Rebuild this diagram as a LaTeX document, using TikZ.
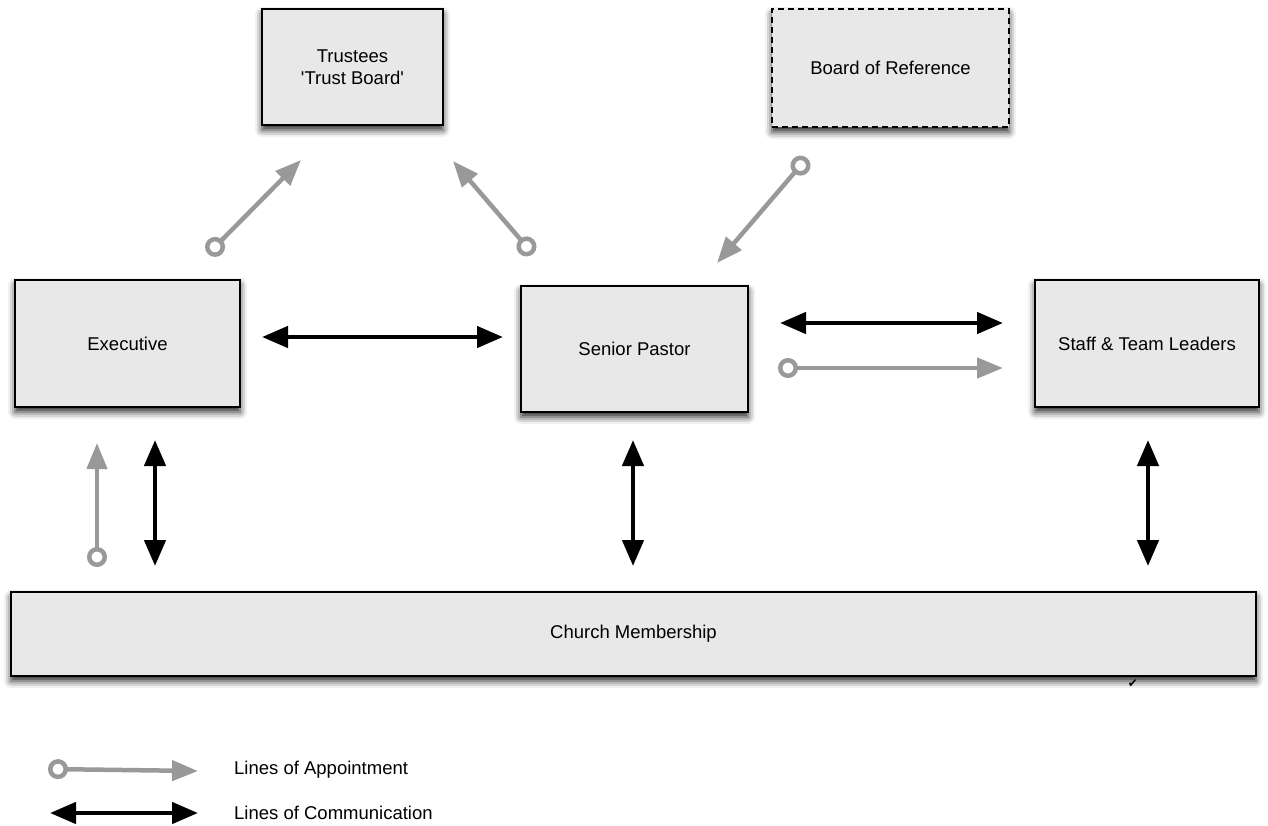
\documentclass[tikz,border=0pt]{standalone}
\usepackage{fontspec}
\setmainfont{Liberation Sans}
\newfontfamily\symfont{DejaVu Sans}
\usetikzlibrary{arrows.meta,shadows.blur}
\definecolor{boxgray}{HTML}{E8E8E8}
\definecolor{arrowgray}{HTML}{999999}
\begin{document}
\begin{tikzpicture}[x=1pt,y=-1pt,
  box/.style={draw=black,line width=1.8pt,fill=boxgray,align=center,inner sep=0pt,
    font=\fontsize{18.5}{22}\selectfont,
    blur shadow={shadow xshift=0pt,shadow yshift=-5pt,shadow blur radius=7pt,shadow opacity=85}},
  comm/.style={draw=black,line width=4.5pt,{Triangle[length=26pt,width=21pt]}-{Triangle[length=26pt,width=21pt]}},
  appt/.style={draw=arrowgray,line width=4.5pt,{Circle[open,length=20pt,width=20pt,line width=4.5pt]}-{Triangle[length=26pt,width=20pt]}},
  legtext/.style={anchor=west,inner sep=0pt,font=\fontsize{18.5}{22}\selectfont}]
\useasboundingbox (0,0) rectangle (1268,825);

% boxes
\node[box,minimum width=181pt,minimum height=116pt] (trust) at (352.5,67) {Trustees\\\textquotesingle Trust Board\textquotesingle};
\node[box,dashed,dash pattern=on 6pt off 4pt,minimum width=237pt,minimum height=118pt] (bor) at (890.5,68) {Board of Reference};
\node[box,minimum width=225pt,minimum height=127pt] (exec) at (127.5,343.5) {Executive};
\node[box,minimum width=227pt,minimum height=126pt] (pastor) at (634.5,349) {Senior Pastor};
\node[box,minimum width=224pt,minimum height=127pt] (staff) at (1147,343.5) {Staff \& Team Leaders};
\node[box,minimum width=1245pt,minimum height=84pt] (church) at (633.5,634) {Church Membership};

% connector end points
\coordinate (a1s) at (208,254); \coordinate (a1e) at (301,160);
\coordinate (a2s) at (533,254); \coordinate (a2e) at (453,161);
\coordinate (a3s) at (807,158); \coordinate (a3e) at (717,263);
\coordinate (a4s) at (778,368); \coordinate (a4e) at (1003,368);
\coordinate (a5s) at (97,567);  \coordinate (a5e) at (97,443);
\coordinate (c1s) at (262,337); \coordinate (c1e) at (503,337);
\coordinate (c2s) at (780,323); \coordinate (c2e) at (1003,323);
\coordinate (c3s) at (155,440); \coordinate (c3e) at (155,566);
\coordinate (c4s) at (633,440); \coordinate (c4e) at (633,566);
\coordinate (c5s) at (1148,440); \coordinate (c5e) at (1148,566);

\draw[appt] (a1s) -- (a1e);
\draw[appt] (a2s) -- (a2e);
\draw[appt] (a3s) -- (a3e);
\draw[appt] (a4s) -- (a4e);
\draw[appt] (a5s) -- (a5e);
\draw[comm] (c1s) -- (c1e);
\draw[comm] (c2s) -- (c2e);
\draw[comm] (c3s) -- (c3e);
\draw[comm] (c4s) -- (c4e);
\draw[comm] (c5s) -- (c5e);

% check mark
\node[inner sep=0pt,text=black] (tick) at (1133,684) {\symfont\fontsize{12}{14}\selectfont ✔};

% legend
\coordinate (l1s) at (48,769); \coordinate (l1e) at (198,771);
\coordinate (l2s) at (50,813); \coordinate (l2e) at (198,813);
\draw[appt] (l1s) -- (l1e);
\draw[comm] (l2s) -- (l2e);
\node[legtext] (lt1) at (234,770) {Lines of Appointment};
\node[legtext] (lt2) at (234,813) {Lines of Communication};
\end{tikzpicture}
\end{document}
